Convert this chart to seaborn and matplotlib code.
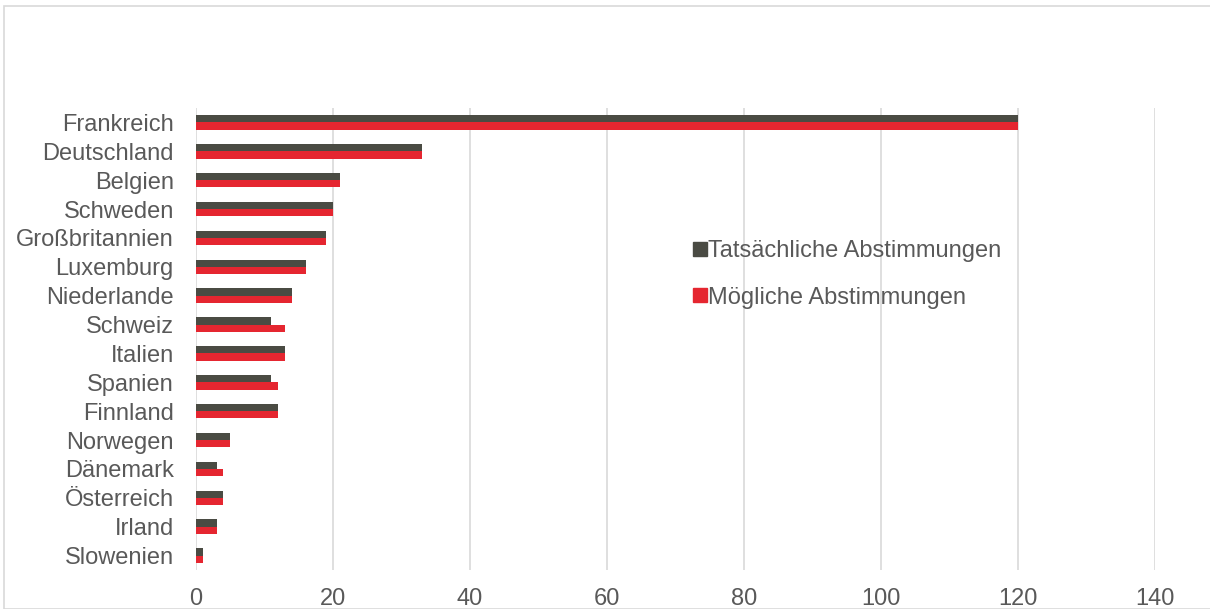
import matplotlib
matplotlib.use("Agg")
import matplotlib.pyplot as plt
import seaborn as sns
import pandas as pd
from matplotlib.patches import Rectangle
from matplotlib.lines import Line2D

countries = ["Frankreich", "Deutschland", "Belgien", "Schweden", "Großbritannien",
             "Luxemburg", "Niederlande", "Schweiz", "Italien", "Spanien", "Finnland",
             "Norwegen", "Dänemark", "Österreich", "Irland", "Slowenien"]
actual = [120, 33, 21, 20, 19, 16, 14, 11, 13, 11, 12, 5, 3, 4, 3, 1]
possible = [120, 33, 21, 20, 19, 16, 14, 13, 13, 12, 12, 5, 4, 4, 3, 1]
series_names = ["Tatsächliche Abstimmungen", "Mögliche Abstimmungen"]
x_ticks = [0, 20, 40, 60, 80, 100, 120, 140]

colors = ["#4a4b43", "#e52630"]
text_color = "#595959"

df = pd.DataFrame({
    "Land": countries * 2,
    "Wert": actual + possible,
    "Serie": [series_names[0]] * len(countries) + [series_names[1]] * len(countries),
})

sns.set_theme(style="white")
plt.rcParams["font.family"] = ["Liberation Sans", "DejaVu Sans"]

fig = plt.figure(figsize=(12.1, 6.09), dpi=100)
ax = fig.add_axes([196 / 1210, 1 - 570 / 609, (1155 - 196) / 1210, (570 - 108) / 609])

sns.barplot(data=df, y="Land", x="Wert", hue="Serie", order=countries,
            hue_order=series_names, palette=colors, orient="h", width=0.5,
            linewidth=0, saturation=1, ax=ax, legend=False)

ax.set_xlim(0, 140)
ax.set_ylim(len(countries) - 0.5, -0.5)
ax.set_xticks(x_ticks)
ax.set_xticklabels([str(t) for t in x_ticks])
ax.xaxis.grid(True, color="#d9d9d9", linewidth=1.2)
ax.set_axisbelow(True)
for s in ax.spines.values():
    s.set_visible(False)
ax.set_xlabel("")
ax.set_ylabel("")
ax.tick_params(axis="both", length=0, labelsize=17, colors=text_color)
ax.tick_params(axis="x", pad=13)
ax.tick_params(axis="y", pad=16)

handles = [Line2D([0], [0], marker="s", linestyle="none", markersize=10,
                  markerfacecolor=c, markeredgecolor=c) for c in colors]
leg = ax.legend(handles, series_names, loc="upper left",
                bbox_to_anchor=((681 - 196) / (1155 - 196), 1 - (228 - 108) / 462),
                frameon=False, fontsize=17, labelspacing=1.05,
                handlelength=0.6, handletextpad=0.05, borderpad=0)
for t in leg.get_texts():
    t.set_color(text_color)

fig.patches.append(Rectangle((4 / 1210, 0), 1.2, 1 - 6 / 609, transform=fig.transFigure,
                             fill=False, edgecolor="#d9d9d9", linewidth=1.2))

fig.savefig("out.png", dpi=100)
